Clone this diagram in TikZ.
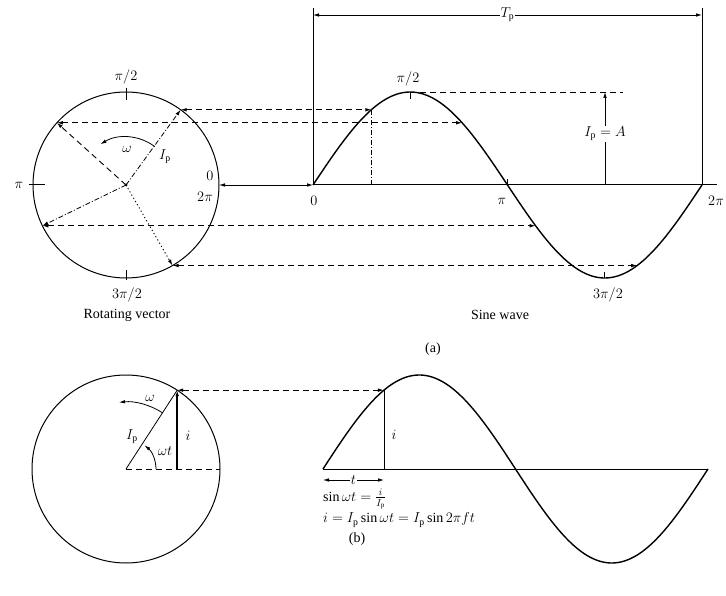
\documentclass[tikz,border=0pt]{standalone}
\usepackage{fontspec}
\setmainfont{Liberation Serif}
\usetikzlibrary{arrows.meta}
\begin{document}
\begin{tikzpicture}[x=1pt,y=1pt,
  >={Latex[length=6pt,width=3.6pt]},
  lbl/.style={font=\fontsize{14}{16}\selectfont, inner sep=1pt},
  captxt/.style={font=\fontsize{14}{16}\selectfont, inner sep=1pt},
  thinln/.style={line width=0.8pt},
  curve/.style={line width=1.4pt},
  dsh/.style={dash pattern=on 6pt off 4pt, line width=0.9pt},
  dshdot/.style={dash pattern=on 5pt off 2pt on 1pt off 2pt, line width=0.8pt},
  dots/.style={dash pattern=on 1.2pt off 2.5pt, line width=0.9pt}]
\useasboundingbox (0,0) rectangle (726,-596);

% ================= (a) rotating vector =================
\coordinate (C) at (126,-185);
\draw[line width=1pt] (C) circle[radius=93];
\fill (C) circle[radius=1.5pt];

% ticks
\coordinate (Tt1) at (126,-88); \coordinate (Tt2) at (126,-100);
\draw[line width=1pt] (Tt1) -- (Tt2);
\coordinate (Tl1) at (29,-185); \coordinate (Tl2) at (45,-185);
\draw[line width=1pt] (Tl1) -- (Tl2);
\coordinate (Tb1) at (126,-270); \coordinate (Tb2) at (126,-280);
\draw[line width=1pt] (Tb1) -- (Tb2);

% points on the circle
\path (C) ++(54:93) coordinate (A1);
\path (C) ++(138:93) coordinate (A2);
\path (C) ++(206:93) coordinate (A3);
\path (C) ++(300:93) coordinate (A4);
\path (C) ++(0:93) coordinate (A0);

% radii
\draw[dshdot,->] (C) -- (A1);
\draw[dsh,->] (C) -- (A2);
\draw[dshdot,->] (C) -- (A3);
\draw[dots,->] (C) -- (A4);

% omega arc
\path (C) ++(53:48) coordinate (W1);
\draw[thinln,->] (W1) arc[start angle=53, end angle=122, radius=48];
\node[lbl] (wlab) at (127,-149) {$\omega$};
\node[lbl] (Iplab) at (165,-157) {$I_\mathrm{p}$};

% circle labels
\node[lbl] (cpi2) at (126,-77) {$\pi/2$};
\node[lbl] (cpi) at (19,-185) {$\pi$};
\node[lbl] (c3pi2) at (127,-295) {$3\pi/2$};
\node[lbl] (c0) at (210,-176) {$0$};
\node[lbl] (c2pi) at (205,-197) {$2\pi$};
\node[captxt] (rv) at (127,-315) {Rotating vector};

% ================= (a) sine wave =================
\coordinate (O) at (313,-185);
\coordinate (E) at (702,-185);
\coordinate (Aend) at (717,-185);
\draw[line width=1pt] (O) -- (Aend);
\draw[thinln,<->] (A0) -- (O);
\draw[curve] plot[domain=0:360,samples=150] ({313+\x/360*389},{-185+93*sin(\x)});

% projected points on the sine
\coordinate (S1) at ({313+54/360*389},{-185+93*sin(54)});
\coordinate (S2) at ({313+138/360*389},{-185+93*sin(138)});
\coordinate (S3) at ({313+206/360*389},{-185+93*sin(206)});
\coordinate (S4) at ({313+300/360*389},{-185+93*sin(300)});
\draw[dsh,<->] (A1) -- (S1);
\draw[dsh,<->] (A2) -- (S2);
\draw[dsh,<->] (A3) -- (S3);
\draw[dsh,<->] (A4) -- (S4);
\coordinate (S1f) at (S1 |- O);
\draw[dshdot] (S1) -- (S1f);

% period dimension
\coordinate (TL) at (313,-15);
\coordinate (TR) at (702,-15);
\coordinate (TLt) at (313,-8);
\coordinate (TRt) at (702,-8);
\draw[thinln] (TLt) -- (O);
\draw[thinln] (TRt) -- (E);
\draw[thinln,<->] (TL) -- node[lbl,fill=white] (Tp) {$T_\mathrm{p}$} (TR);

% peak and amplitude
\coordinate (Pk) at (410.25,-92);
\coordinate (Pke) at (623,-92);
\draw[dsh] (Pk) -- (Pke);
\coordinate (Vb) at (605,-185);
\coordinate (Vt) at (605,-92);
\node[lbl,fill=white] (IpA) at (605,-134) {$I_\mathrm{p}=A$};
\draw[thinln] (Vb) -- (IpA.south);
\draw[thinln,->] (IpA.north) -- (Vt);

% curve ticks
\coordinate (k1a) at (410.25,-92); \coordinate (k1b) at (410.25,-99);
\draw[thinln] (k1a) -- (k1b);
\coordinate (k2a) at (507.5,-179); \coordinate (k2b) at (507.5,-185);
\draw[thinln] (k2a) -- (k2b);
\coordinate (k3a) at (604.75,-272); \coordinate (k3b) at (604.75,-278);
\draw[thinln] (k3a) -- (k3b);

% sine labels
\node[lbl] (spi2) at (408,-79) {$\pi/2$};
\node[lbl] (s0) at (314,-201) {$0$};
\node[lbl] (spi) at (502,-201) {$\pi$};
\node[lbl,anchor=east] (s2pi) at (725,-201) {$2\pi$};
\node[lbl] (s3pi2) at (608,-295) {$3\pi/2$};
\node[captxt] (sw) at (500,-315) {Sine wave};
\node[lbl] (la) at (433,-349) {(a)};

% ================= (b) =================
\coordinate (C2) at (126,-469);
\draw[line width=1pt] (C2) circle[radius=94];
\path (C2) ++(57:94) coordinate (P);
\path (C2) ++(0:94) coordinate (R2);
\coordinate (Pf) at (P |- C2);
\draw[dsh] (C2) -- (R2);
\draw[thinln] (C2) -- (P);
\draw[line width=1.5pt,->] (Pf) -- (P);
\path (C2) ++(0:30) coordinate (wt1);
\draw[thinln,->] (wt1) arc[start angle=0, end angle=52, radius=30];
\path (C2) ++(57:67) coordinate (w21);
\draw[thinln,->] (w21) arc[start angle=57, end angle=96, radius=67];
\node[lbl] (bw) at (150,-398) {$\omega$};
\node[lbl] (bwt) at (165,-451) {$\omega t$};
\node[lbl] (bIp) at (132,-437) {$I_\mathrm{p}$};
\node[lbl] (bi) at (188,-436) {$i$};

\coordinate (O2) at (323,-469);
\coordinate (E2) at (708,-469);
\draw[line width=1pt] (O2) -- (E2);
\draw[curve] plot[domain=0:360,samples=150] ({323+\x/360*385},{-469+94*sin(\x)});
\coordinate (Q) at ({323+57/360*385},{-469+94*sin(57)});
\coordinate (Qf) at (Q |- O2);
\draw[dsh,<->] (P) -- (Q);
\draw[thinln] (Q) -- (Qf);
\node[lbl] (bi2) at (394,-435) {$i$};

\node[lbl] (tlab) at ({(323+384)/2},-480) {$t$};
\coordinate (tL) at (323,-480);
\coordinate (tR) at (384,-480);
\draw[thinln,->] (tlab.west) -- (tL);
\draw[thinln,->] (tlab.east) -- (tR);

\node[lbl,anchor=west] (eq1) at (322,-499) {$\sin\omega t = \frac{i}{I_\mathrm{p}}$};
\node[lbl,anchor=west] (eq2) at (322,-520) {$i = I_\mathrm{p}\sin\omega t = I_\mathrm{p}\sin 2\pi f t$};
\node[lbl] (lb) at (357,-539) {(b)};
\end{tikzpicture}
\end{document}
